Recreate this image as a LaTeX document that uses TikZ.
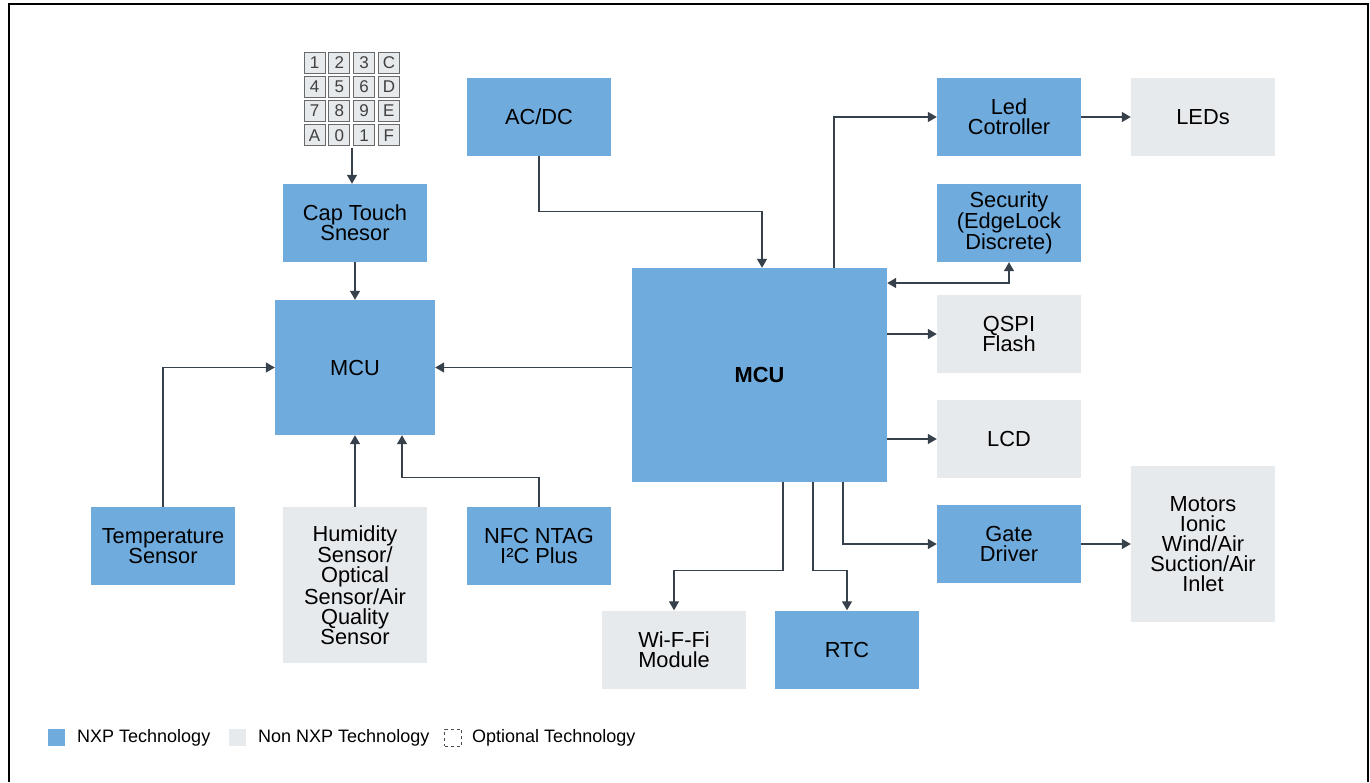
\documentclass[tikz,border=0pt]{standalone}
\usepackage{fontspec}
\setmainfont{Liberation Sans}
\usetikzlibrary{arrows.meta}
\definecolor{nxpblue}{RGB}{111,171,221}
\definecolor{nonnxpgray}{RGB}{230,234,237}
\definecolor{wiregray}{RGB}{55,65,75}
\definecolor{keyedge}{RGB}{105,105,105}

\begin{document}
\begin{tikzpicture}[x=1pt, y=-1pt,
    blk/.style={minimum width=144pt, minimum height=78pt, inner sep=0pt,
      align=center, font=\fontsize{21.8}{20}\selectfont},
    nxp/.style={blk, fill=nxpblue},
    nonnxp/.style={blk, fill=nonnxpgray},
    arr/.style={wiregray, line width=1.3pt, -{Triangle[length=9pt,width=10pt]}},
    biarr/.style={wiregray, line width=1.3pt,
      {Triangle[length=9pt,width=10pt]}-{Triangle[length=9pt,width=10pt]}},
    key/.style={draw=keyedge, fill=nonnxpgray, line width=1pt, minimum size=21pt,
      inner sep=0pt, font=\fontsize{17}{17}\selectfont, text=black!75},
    lgtext/.style={anchor=west, inner sep=0pt, font=\fontsize{18}{18}\selectfont}]
    \useasboundingbox (0,0) rectangle (1370,782);

    %% frame
    \draw[line width=2pt] (9,782) -- (9,4) -- (1368,4) -- (1368,782);

    %% keypad
    \foreach \lbl [count=\i from 0] in {1,2,3,C,4,5,6,D,7,8,9,E,A,0,1,F} {
      \pgfmathtruncatemacro{\kc}{mod(\i,4)}
      \pgfmathtruncatemacro{\kr}{div(\i,4)}
      \node[key] (key\i) at (314.5+24.8*\kc, 62.5+24.3*\kr) {\lbl};
    }
    \coordinate (keypad) at (352,148);

    %% blocks
    \node[nxp] (cap) at (355,223) {Cap Touch\\Snesor};
    \node[nxp, minimum width=160pt, minimum height=135pt] (mcul) at (355,367.5) {MCU};
    \node[nxp] (acdc) at (539,116.5) {AC/DC};
    \node[nxp, minimum width=255pt, minimum height=214pt,
      font=\fontsize{21.8}{20}\selectfont\bfseries] (mcub) at (759.5,375) {MCU};
    \node[nxp] (led) at (1009,117) {Led\\Cotroller};
    \node[nonnxp] (leds) at (1203,117) {LEDs};
    \node[nxp] (sec) at (1009,223) {Security\\(EdgeLock\\Discrete)};
    \node[nonnxp] (qspi) at (1009,334) {QSPI\\Flash};
    \node[nonnxp] (lcd) at (1009,439) {LCD};
    \node[nxp] (gate) at (1009,544) {Gate\\Driver};
    \node[nonnxp, minimum height=156pt] (motors) at (1203,544)
      {Motors\\Ionic\\Wind/Air\\Suction/Air\\Inlet};
    \node[nxp] (temp) at (163,546) {Temperature\\Sensor};
    \node[nonnxp, minimum height=156pt] (hum) at (355,585)
      {Humidity\\Sensor/\\Optical\\Sensor/Air\\Quality\\Sensor};
    \node[nxp] (nfc) at (539,546) {NFC NTAG\\I²C Plus};
    \node[nonnxp] (wifi) at (674,649.5) {Wi-F-Fi\\Module};
    \node[nxp] (rtc) at (847,649.5) {RTC};

    %% connectors
    \draw[arr] (keypad) -- (cap.north -| keypad);
    \draw[arr] (cap.south) -- (mcul.north);
    \draw[arr] (acdc.south) -- ++(0,56) -| ([xshift=2.5pt]mcub.north);
    \draw[arr] (mcub.west |- mcul.east) -- (mcul.east);
    \draw[arr] ([xshift=74.5pt]mcub.north) |- (led.west);
    \draw[arr] (led.east) -- (leds.west);
    \draw[biarr] (sec.south) |- ([yshift=92pt]mcub.east);
    \draw[arr] (mcub.east |- qspi.west) -- (qspi.west);
    \draw[arr] (mcub.east |- lcd.west) -- (lcd.west);
    \draw[arr] ([xshift=83.5pt]mcub.south) |- (gate.west);
    \draw[arr] (gate.east) -- (motors.west);
    \draw[arr] ([xshift=23.5pt]mcub.south) -- ++(0,88) -| (wifi.north);
    \draw[arr] ([xshift=53.5pt]mcub.south) -- ++(0,88) -| (rtc.north);
    \draw[arr] (temp.north) |- (mcul.west);
    \draw[arr] (hum.north) -- (mcul.south);
    \draw[arr] (nfc.north) -- ++(0,-29) -| ([xshift=47pt]mcul.south);

    %% legend
    \node[fill=nxpblue, minimum size=17pt, inner sep=0pt] (lgnxp) at (56.5,737.5) {};
    \node[lgtext] (lgnxptxt) at (77,737.5) {NXP Technology};
    \node[fill=nonnxpgray, minimum size=17pt, inner sep=0pt] (lgnon) at (237.5,737.5) {};
    \node[lgtext] (lgnontxt) at (258,737.5) {Non NXP Technology};
    \node[draw=black!70, dashed, line width=0.8pt, minimum size=17pt, inner sep=0pt] (lgopt) at (453,737.5) {};
    \node[lgtext] (lgopttxt) at (472,737.5) {Optional Technology};
\end{tikzpicture}
\end{document}
